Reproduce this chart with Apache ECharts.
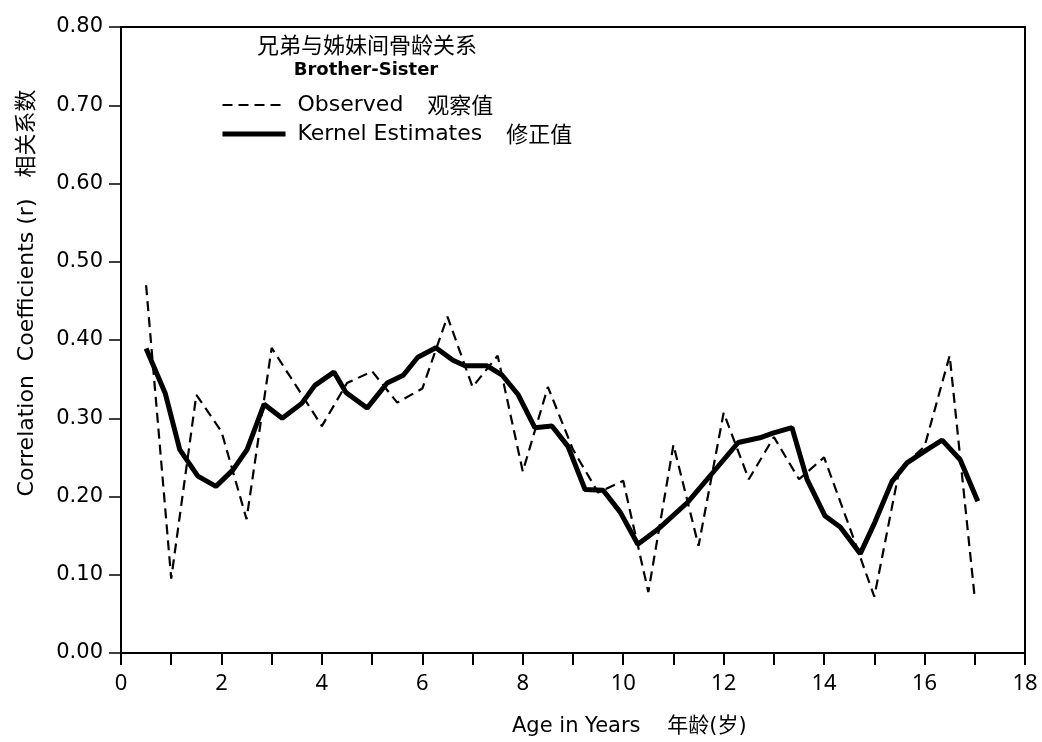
<!DOCTYPE html>
<html>
<head>
<meta charset="utf-8">
<script src="https://cdn.jsdelivr.net/npm/echarts@6/dist/echarts.min.js"></script>
<style>
  html, body { margin: 0; padding: 0; background: #fff; }
  #chart { width: 1042px; height: 742px; }
</style>
</head>
<body>
<div id="chart"></div>
<script>
// 观察值：每半岁一个点
var observedAges = [0.5, 1, 1.5, 2, 2.5, 3, 3.5, 4, 4.5, 5, 5.5, 6, 6.5, 7, 7.5, 8, 8.5,
  9, 9.5, 10, 10.5, 11, 11.5, 12, 12.5, 13, 13.5, 14, 14.5, 15, 15.5, 16, 16.5, 17];
var observedValues = [0.47, 0.095, 0.33, 0.283, 0.171, 0.39, 0.34, 0.29, 0.345, 0.36, 0.32, 0.338,
  0.43, 0.34, 0.38, 0.232, 0.34, 0.26, 0.205, 0.22, 0.078, 0.266, 0.137, 0.307,
  0.222, 0.276, 0.222, 0.25, 0.162, 0.072, 0.235, 0.264, 0.38, 0.07];

// 修正值（核估计）折线的拐点
var kernelAges = [0.5, 0.88, 1.17, 1.53, 1.89, 2.23, 2.51, 2.85, 3.21, 3.6, 3.86, 4.24, 4.48,
  4.9, 5.3, 5.62, 5.91, 6.27, 6.61, 6.85, 7.29, 7.59, 7.91, 8.24, 8.58, 8.9, 9.24, 9.6,
  9.94, 10.29, 10.69, 11.29, 11.79, 12.29, 12.72, 12.98, 13.36, 13.66, 14.02, 14.32,
  14.72, 15.01, 15.35, 15.65, 16.05, 16.35, 16.71, 17.06];
var kernelValues = [0.389, 0.332, 0.26, 0.226, 0.213, 0.234, 0.26, 0.318, 0.3, 0.319, 0.342, 0.359, 0.333,
  0.313, 0.345, 0.355, 0.378, 0.39, 0.374, 0.367, 0.367, 0.355, 0.33, 0.288, 0.29, 0.264, 0.209, 0.208,
  0.18, 0.139, 0.158, 0.193, 0.231, 0.269, 0.275, 0.281, 0.288, 0.222, 0.175, 0.161,
  0.127, 0.167, 0.219, 0.243, 0.26, 0.272, 0.247, 0.194];

var yTicks = ["0.00", "0.10", "0.20", "0.30", "0.40", "0.50", "0.60", "0.70", "0.80"];

var latin = "'DejaVu Sans', 'Noto Sans CJK SC', sans-serif";
var cjk = "'Noto Sans CJK SC', sans-serif";

var legendText = {
  "Observed": "观察值",
  "Kernel Estimates": "修正值"
};

var chart = echarts.init(document.getElementById("chart"));

chart.setOption({
  backgroundColor: "#fff",
  animation: false,
  legend: {
    orient: "vertical",
    left: 220,
    top: 94,
    padding: 0,
    itemGap: 7,
    itemWidth: 63,
    itemHeight: 22,
    itemStyle: { opacity: 0 },
    data: [
      { name: "Observed", lineStyle: { width: 2.2, type: [10, 6] } },
      { name: "Kernel Estimates", lineStyle: { width: 5, type: "solid" } }
    ],
    formatter: function (name) {
      return "{a|" + name + "}{b|" + legendText[name] + "}";
    },
    textStyle: {
      color: "#000",
      rich: {
        a: { fontFamily: latin, fontSize: 22, lineHeight: 22, color: "#000", padding: [0, 24, 0, 7] },
        b: { fontFamily: cjk, fontSize: 22, lineHeight: 22, color: "#000" }
      }
    }
  },
  grid: {
    left: 121,
    right: 17,
    top: 27,
    bottom: 89,
    show: true,
    borderColor: "#000",
    borderWidth: 2
  },
  xAxis: {
    type: "value",
    min: 0,
    max: 18,
    interval: 1,
    axisLine: { lineStyle: { color: "#000", width: 2 } },
    axisTick: { length: 12, lineStyle: { color: "#000", width: 2 } },
    splitLine: { show: false },
    axisLabel: {
      margin: 20,
      fontFamily: "'Noto Sans', sans-serif",
      fontSize: 22,
      color: "#000",
      formatter: function (v) {
        return v % 2 === 0 ? String(v) : "";
      }
    }
  },
  yAxis: {
    type: "value",
    min: 0,
    max: 0.8,
    interval: 0.1,
    axisLine: { show: true, lineStyle: { color: "#000", width: 2 } },
    axisTick: { show: true, length: 12, lineStyle: { color: "#000", width: 1.5 } },
    splitLine: { show: false },
    axisLabel: {
      margin: 18,
      fontFamily: latin,
      fontSize: 21,
      color: "#000",
      formatter: function (v) {
        return yTicks[Math.round(v * 10)];
      }
    }
  },
  graphic: [
    {
      type: "text",
      x: 367,
      y: 45,
      style: {
        text: "兄弟与姊妹间骨龄关系",
        font: "22px " + cjk,
        fill: "#000",
        align: "center",
        verticalAlign: "middle"
      }
    },
    {
      type: "text",
      x: 366,
      y: 70,
      style: {
        text: "Brother-Sister",
        font: "bold 18px " + latin,
        fill: "#000",
        align: "center",
        verticalAlign: "middle"
      }
    },
    {
      type: "text",
      x: 27,
      y: 293,
      rotation: Math.PI / 2,
      style: {
        text: "Correlation  Coefficients (r)   相关系数",
        font: "22px " + latin,
        fill: "#000",
        align: "center",
        verticalAlign: "middle"
      }
    },
    {
      type: "text",
      x: 512,
      y: 727,
      style: {
        text: "Age in Years    年龄(岁)",
        font: "21px " + latin,
        fill: "#000",
        align: "left",
        verticalAlign: "middle"
      }
    }
  ],
  series: [
    {
      name: "Observed",
      type: "line",
      symbol: "none",
      color: "#000",
      lineStyle: { color: "#000", width: 2.2, type: [10, 6] },
      data: observedAges.map(function (a, i) { return [a, observedValues[i]]; })
    },
    {
      name: "Kernel Estimates",
      type: "line",
      symbol: "none",
      color: "#000",
      lineStyle: { color: "#000", width: 5 },
      data: kernelAges.map(function (a, i) { return [a, kernelValues[i]]; })
    }
  ]
});
</script>
</body>
</html>
